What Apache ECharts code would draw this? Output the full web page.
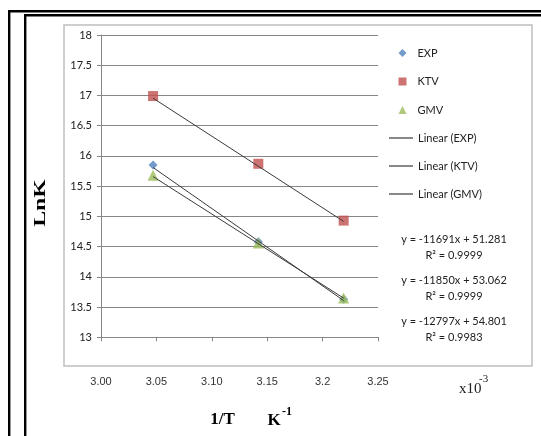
<!DOCTYPE html>
<html>
<head>
<meta charset="utf-8">
<script src="https://cdn.jsdelivr.net/npm/echarts@6/dist/echarts.min.js"></script>
<style>
  html, body { margin: 0; padding: 0; background: #fff; }
  #chart { width: 541px; height: 436px; }
</style>
</head>
<body>
<div id="chart"></div>
<script>
// 1/T in units of 10^-3 K^-1
const invTemp = [3.047, 3.142, 3.219];
// ln K for each data set
const expLnK = [15.85, 14.58, 13.63];
const ktvLnK = [16.99, 15.87, 14.93];
const gmvLnK = [15.68, 14.56, 13.65];

// x tick labels
const xTickLabels = ['3.00', '3.05', '3.10', '3.15', '3.2', '3.25'];

// linear fits, listed in the order their equations are printed
const fitSeries = ['GMV', 'KTV', 'EXP'];
const fitSlopes = [-11691, -11850, -12797];
const fitIntercepts = [51.281, 53.062, 54.801];
const fitR2 = ['0.9999', '0.9999', '0.9983'];

const colors = { EXP: '#4f81bd', KTV: '#c0504d', GMV: '#9bbb59' };
const symbols = { EXP: 'diamond', KTV: 'rect', GMV: 'triangle' };
const sizes = { EXP: 9, KTV: 10, GMV: 11 };
const sets = { EXP: expLnK, KTV: ktvLnK, GMV: gmvLnK };
const order = ['EXP', 'KTV', 'GMV'];

const pointSeries = order.map(name => ({
  name: name,
  type: 'scatter',
  symbol: symbols[name],
  symbolSize: sizes[name],
  itemStyle: { color: colors[name] },
  z: 2,
  data: invTemp.map((x, i) => [x, sets[name][i]])
}));

function fitLine(name) {
  const k = fitSeries.indexOf(name);
  const ends = [invTemp[0], invTemp[invTemp.length - 1]];
  return ends.map(x => [x, fitSlopes[k] * x * 1e-3 + fitIntercepts[k]]);
}

const lineSeries = order.map(name => ({
  name: 'Linear (' + name + ')',
  type: 'line',
  symbol: 'none',
  silent: true,
  z: 3,
  lineStyle: { color: '#3a3a3a', width: 1 },
  itemStyle: { color: '#3a3a3a' },
  data: fitLine(name)
}));

function fmtEq(k) {
  const b = fitIntercepts[k].toFixed(3);
  return 'y = ' + fitSlopes[k] + 'x + ' + b;
}

const eqTop = [239, 280, 321];
const eqGraphics = [];
fitSeries.forEach((s, k) => {
  eqGraphics.push({
    type: 'text', x: 454, y: eqTop[k], z: 10,
    style: { text: fmtEq(k), font: '11px Lato', fill: '#222', align: 'center', verticalAlign: 'middle' }
  });
  eqGraphics.push({
    type: 'text', x: 454, y: eqTop[k] + 16.5, z: 10,
    style: { text: 'R\u00b2 = ' + fitR2[k], font: '11px Lato', fill: '#222', align: 'center', verticalAlign: 'middle' }
  });
});

const chart = echarts.init(document.getElementById('chart'), null, { renderer: 'canvas' });
chart.setOption({
  backgroundColor: '#fff',
  animation: false,
  grid: { left: 101, top: 35, right: 163, bottom: 98.7, containLabel: false, outerBoundsMode: 'none' },
  xAxis: {
    type: 'value',
    min: 3.0, max: 3.25, interval: 0.05,
    axisLine: { show: true, lineStyle: { color: '#868686', width: 1 } },
    axisTick: { show: true, length: 4, inside: false, lineStyle: { color: '#868686' } },
    splitLine: { show: false },
    axisLabel: {
      margin: 39,
      color: '#333',
      fontFamily: 'Liberation Sans',
      fontSize: 11,
      formatter: v => xTickLabels[Math.round((v - 3.0) / 0.05)]
    }
  },
  yAxis: {
    type: 'value',
    min: 13, max: 18, interval: 0.5,
    axisLine: { show: true, lineStyle: { color: '#868686', width: 1 } },
    axisTick: { show: true, length: 4, lineStyle: { color: '#868686' } },
    splitLine: { show: true, lineStyle: { color: '#868686', width: 1 } },
    axisLabel: { margin: 9, color: '#222', fontFamily: 'Lato', fontSize: 11 }
  },
  legend: [
    {
      data: order,
      orient: 'vertical',
      left: 398.5, top: 46,
      padding: 0,
      itemWidth: 8, itemHeight: 8,
      itemGap: 14.5,
      selectedMode: false,
      textStyle: { fontFamily: 'Lato', fontSize: 11, color: '#222', lineHeight: 14, padding: [0, 0, 0, 6] }
    },
    {
      data: order.map(n => ({ name: 'Linear (' + n + ')', icon: 'rect' })),
      orient: 'vertical',
      left: 389, top: 131,
      padding: 0,
      itemWidth: 24, itemHeight: 1.2,
      itemGap: 14,
      selectedMode: false,
      itemStyle: { color: '#3a3a3a', borderWidth: 0 },
      textStyle: { fontFamily: 'Lato', fontSize: 11, color: '#222', lineHeight: 14 }
    }
  ],
  series: pointSeries.concat(lineSeries),
  graphic: [
    // outer double frame
    { type: 'polyline', z: 20, shape: { points: [[9.2, 436], [9.2, 11.2], [541, 11.2]] }, style: { stroke: '#000', lineWidth: 2.4, fill: null } },
    { type: 'polyline', z: 20, shape: { points: [[25.2, 436], [25.2, 15.2], [541, 15.2]] }, style: { stroke: '#000', lineWidth: 2.4, fill: null } },
    // chart area border
    { type: 'rect', z: -1, shape: { x: 64, y: 25, width: 468, height: 341 }, style: { stroke: '#bfbfbf', lineWidth: 1.5, fill: null } },
    // y axis title
    { type: 'text', x: 41, y: 203, rotation: Math.PI / 2, scaleX: 1.4, z: 10,
      style: { text: 'LnK', font: 'bold 17px "Liberation Serif"', fill: '#000', align: 'center', verticalAlign: 'middle' } },
    // x axis title
    { type: 'text', x: 222.5, y: 420, z: 10,
      style: { text: '1/T', font: 'bold 17px "Liberation Serif"', fill: '#000', align: 'center', verticalAlign: 'middle' } },
    { type: 'text', x: 274, y: 421, z: 10,
      style: { text: 'K', font: 'bold 17px "Liberation Serif"', fill: '#000', align: 'center', verticalAlign: 'middle' } },
    { type: 'text', x: 282, y: 412, z: 10,
      style: { text: '-1', font: 'bold 12px "Liberation Serif"', fill: '#000', align: 'left', verticalAlign: 'middle' } },
    // axis multiplier
    { type: 'text', x: 459, y: 389, z: 10,
      style: { text: 'x10', font: '15px "Liberation Serif"', fill: '#222', align: 'left', verticalAlign: 'middle' } },
    { type: 'text', x: 479, y: 379, z: 10,
      style: { text: '-3', font: '11px "Liberation Serif"', fill: '#222', align: 'left', verticalAlign: 'middle' } }
  ].concat(eqGraphics)
});
</script>
</body>
</html>
